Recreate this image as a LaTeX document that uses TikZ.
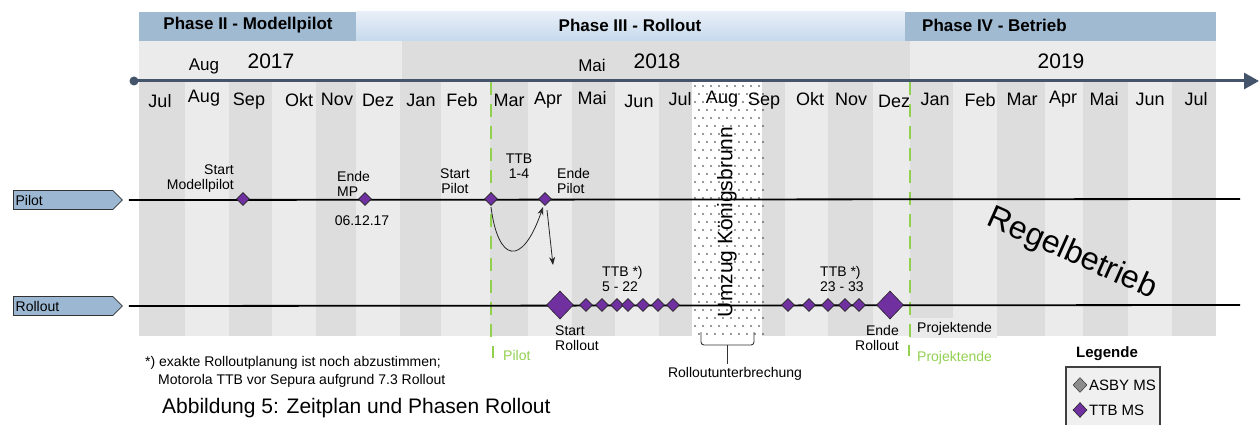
\documentclass[tikz,border=0pt]{standalone}
\usepackage{fontspec}
\setmainfont{Liberation Sans}
\usetikzlibrary{shapes.geometric,shapes.symbols,arrows.meta}
\definecolor{stdk}{RGB}{221,221,221}
\definecolor{stlt}{RGB}{235,235,235}
\definecolor{hdblue}{RGB}{160,186,210}
\definecolor{hdtop}{RGB}{232,239,247}
\definecolor{hdbot}{RGB}{198,217,237}
\definecolor{axis}{RGB}{68,84,106}
\definecolor{mgreen}{RGB}{146,208,80}
\definecolor{mpurple}{RGB}{112,48,160}
\definecolor{lblblue}{RGB}{155,183,209}
\newcommand{\fs}[1]{\fontsize{#1}{#1}\selectfont}
\tikzset{
  x=1pt,y=-1pt,
  sd/.style={diamond,draw=black!85,line width=0.6pt,fill=mpurple,inner sep=0pt,minimum width=13pt,minimum height=13pt},
  bd/.style={diamond,draw=black!85,line width=0.6pt,fill=mpurple,inner sep=0pt,minimum width=27pt,minimum height=28pt},
  lbl/.style={font=\fs{14},inner sep=0pt,align=left},
  mon/.style={font=\fs{18},inner sep=0pt},
  rowline/.style={line width=1.8pt,black},
  gdash/.style={mgreen,line width=2.8pt,dash pattern=on 13pt off 9pt},
  gmark/.style={mgreen,line width=2.8pt},
  rowlbl/.style={signal,signal to=east,draw=black!80,fill=lblblue,line width=0.8pt,minimum width=109pt,minimum height=19pt,inner sep=2pt,font=\fs{14},text width=95pt,align=left},
  arr/.style={black!85,line width=0.8pt,-{Stealth[length=8pt,width=6pt]}},
}
\begin{document}
\begin{tikzpicture}
\useasboundingbox (0,0) rectangle (1260,425);
% header
\fill[hdblue] (139,12) rectangle (356,41);
\shade[top color=hdtop,bottom color=hdbot] (356,12) rectangle (905,41);
\fill[hdblue] (905,12) rectangle (1216,41);
\node[font=\bfseries\fs{17},inner sep=0pt] (ph2) at (248,25) {Phase II - Modellpilot};
\node[font=\bfseries\fs{17},inner sep=0pt] (ph3) at (630,25) {Phase III - Rollout};
\node[font=\bfseries\fs{17},inner sep=0pt,anchor=west] (ph4) at (922,25) {Phase IV - Betrieb};
% year band
\fill[stlt] (139,41) rectangle (402,82);
\fill[stdk] (402,41) rectangle (910,82);
\fill[stlt] (910,41) rectangle (1216,82);
\node[font=\fs{17},inner sep=0pt] (y1a) at (204,66) {Aug};
\node[font=\fs{21},inner sep=0pt] (y1) at (271,61) {2017};
\node[font=\fs{17},inner sep=0pt] (y2a) at (592,65) {Mai};
\node[font=\fs{21},inner sep=0pt] (y2) at (657,61) {2018};
\node[font=\fs{21},inner sep=0pt] (y3) at (1061,61) {2019};
% stripes
\foreach \a/\b/\c in {139/185/stdk,185/229/stlt,229/272/stdk,272/316/stlt,316/356/stdk,356/400/stlt,400/441/stdk,441/490/stlt,490/528/stdk,528/572/stlt,572/615/stdk,615/659/stlt,659/702/stdk,702/743/stlt,743/785/stdk,785/828/stlt,828/873/stdk,873/910/stlt,910/953/stdk,953/997/stlt,997/1045/stdk,1045/1083/stlt,1083/1128/stdk,1128/1172/stlt,1172/1216/stdk}
  \fill[\c] (\a,82) rectangle (\b,336);
\fill[stlt] (910,318) rectangle (997,338);
% dotted interruption area
\fill[white] (692,82) rectangle (762,336);
\foreach \yy [count=\k] in {86,94,...,334} {
  \pgfmathsetmacro{\xo}{mod(\k,2)==0 ? 4 : 0}
  \foreach \xx in {695,703,...,759} {
    \fill[black!80] (\xx+\xo,\yy) circle (0.8pt);
  }
}
% month labels
\foreach \m/\xm/\ym in {Jul/160/101,Aug/204/98,Sep/249/101,Okt/299/100,Nov/337/99,Dez/378/100,Jan/421/100,Feb/462/100,Mar/509/100,Apr/548/100,Mai/592/98,Jun/639/101,Jul/680/99,Aug/722/99,Sep/764/101,Okt/810/99,Nov/851/99,Dez/894/101,Jan/935/99,Feb/980/100,Mar/1022/99,Apr/1063/99,Mai/1104/99,Jun/1150/99,Jul/1196/99}
  \node[mon] at (\xm,\ym) {\m};
% timeline axis
\coordinate (axs) at (134,81);
\coordinate (axe) at (1259,81);
\draw[axis,line width=3pt,-{Triangle[length=15pt,width=16pt]}] (axs) -- (axe);
\fill[axis] (axs) circle (4.5pt);
% green dashed lines
\coordinate (g1t) at (491,82); \coordinate (g1b) at (491,338);
\coordinate (g2t) at (910,82); \coordinate (g2b) at (910,338);
\draw[gdash] (g1t) -- (g1b);
\draw[gdash] (g2t) -- (g2b);
% row labels and lines
\node[rowlbl,anchor=west] (pl) at (13,200) {Pilot};
\node[rowlbl,anchor=west] (rl) at (13,306) {Rollout};
\coordinate (ple) at (1240,199);
\coordinate (rle) at (1240,305);
\draw[rowline] ([xshift=6pt]pl.east) -- (ple);
\draw[rowline] ([xshift=6pt]rl.east) -- (rle);
% Umzug text
\node[font=\fs{21},inner sep=0pt,rotate=90] (umz) at (727,222) {Umzug Königsbrunn};
% pilot diamonds
\node[sd] (smp) at (243,199) {};
\node[sd] (emp) at (365,199) {};
\node[sd] (sp) at (491,199) {};
\node[sd] (ep) at (545,199) {};
\node[lbl,align=right,anchor=south east] (smpl) at (234,193) {Start\\[1pt]Modellpilot};
\node[lbl,anchor=south west] (empl) at (337,197) {Ende\\[1pt]MP};
\node[lbl] (empd) at (362,221) {06.12.17};
\node[lbl,align=center] (spl) at (455,181) {Start\\[1pt]Pilot};
\node[lbl,align=center] (ttb1) at (519,166) {TTB\\[1pt]1-4};
\node[lbl,anchor=west] (epl) at (557,181) {Ende\\[1pt]Pilot};
% arrows
\draw[arr] ([yshift=-8pt]sp.center) .. controls (498,262) and (522,268) .. ([yshift=-8pt,xshift=-2pt]ep.center);
\coordinate (ra) at (553,265);
\draw[arr] ([yshift=-11pt,xshift=2pt]ep.center) -- (ra);
% rollout diamonds
\node[bd] (sr) at (560,305) {};
\foreach \xx [count=\i] in {586,602,617,628,643,658,673,788,809,828,845,859}
  \node[sd] (r\i) at (\xx,305) {};
\node[bd] (er) at (890,305) {};
\node[lbl,anchor=west] (ttb2) at (602,279) {TTB *)\\[1pt]5 - 22};
\node[lbl,anchor=west] (ttb3) at (820,279) {TTB *)\\[1pt]23 - 33};
\node[lbl,anchor=west] (srl) at (555,338) {Start\\[1pt]Rollout};
\node[lbl,align=right,anchor=east] (erl) at (899,338) {Ende\\[1pt]Rollout};
\node[lbl,anchor=west] (pe1) at (917,329) {Projektende};
% green legend marks
\coordinate (m1a) at (493,346); \coordinate (m1b) at (493,358);
\draw[gmark] (m1a) -- (m1b);
\node[lbl,text=mgreen,anchor=west] (gpl) at (503,355) {Pilot};
\coordinate (m2a) at (909,345); \coordinate (m2b) at (909,356);
\draw[gmark] (m2a) -- (m2b);
\node[lbl,text=mgreen,anchor=west] (gpe) at (917,358) {Projektende};
% brace
\draw[black!80,line width=0.9pt,rounded corners=3pt] (701,332) -- (701,345) -- (727,345) -- (754,345) -- (754,332);
\draw[black!80,line width=0.9pt] (727,345) -- (727,364);
\node[lbl] (rub) at (735,374) {Rolloutunterbrechung};
% Regelbetrieb
\node[font=\fs{32},inner sep=0pt,rotate=-24] (reg) at (1072,254) {Regelbetrieb};
% footnote and caption
\node[lbl,anchor=west] (fn1) at (145,363) {*) exakte Rolloutplanung ist noch abzustimmen;};
\node[lbl,anchor=west] (fn2) at (158,381) {Motorola TTB vor Sepura aufgrund 7.3 Rollout};
\node[font=\fs{21},inner sep=0pt,anchor=west] (cap) at (162,408) {Abbildung 5: Zeitplan und Phasen Rollout};
% legend
\node[font=\bfseries\fs{15},inner sep=0pt] (leg) at (1107,354) {Legende};
\draw[black!75,fill=black!6,line width=1.5pt] (1066,367) rectangle (1160,430);
\node[diamond,draw=black!85,fill=black!45,inner sep=0pt,minimum width=14pt,minimum height=15pt] (la) at (1080,385) {};
\node[lbl,anchor=west,font=\fs{15}] (lat) at (1089,385) {ASBY MS};
\node[sd,minimum width=14pt,minimum height=15pt] (lt) at (1080,410) {};
\node[lbl,anchor=west,font=\fs{15}] (ltt) at (1089,410) {TTB MS};
\end{tikzpicture}
\end{document}
